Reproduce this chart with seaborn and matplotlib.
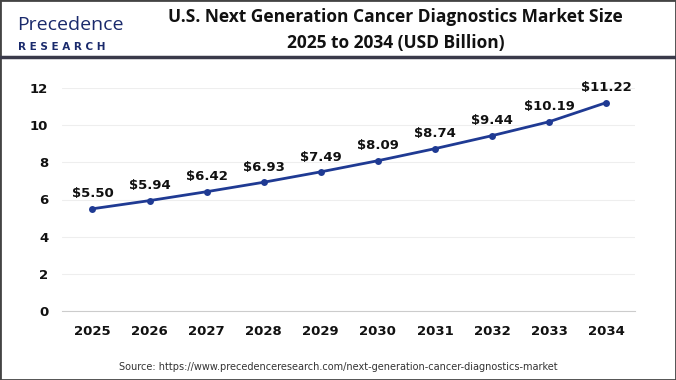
import matplotlib
matplotlib.use("Agg")
import matplotlib.pyplot as plt
import seaborn as sns
import pandas as pd

# chart data
years = ["2025", "2026", "2027", "2028", "2029", "2030", "2031", "2032", "2033", "2034"]
market_size = [5.50, 5.94, 6.42, 6.93, 7.49, 8.09, 8.74, 9.44, 10.19, 11.22]
y_ticks = [0, 2, 4, 6, 8, 10, 12]

df = pd.DataFrame({"year": years, "size": market_size})

sns.set_style("white")
plt.rcParams["font.family"] = ["DejaVu Sans"]

fig = plt.figure(figsize=(6.76, 3.80), dpi=100)
ax = fig.add_axes([0.092, 0.182, 0.847, 0.586])

sns.lineplot(data=df, x="year", y="size", ax=ax, color="#1f3a93", linewidth=2,
             marker="o", markersize=5, markeredgewidth=0, sort=False)

for i, v in enumerate(market_size):
    ax.text(i, v + 0.45, f"${v:.2f}", ha="center", va="bottom", fontsize=9.5,
            fontweight="bold", color="#111111")

ax.set_ylim(0, 12)
ax.set_xlim(-0.53, 9.5)
ax.set_yticks(y_ticks)
ax.grid(axis="y", color="#eeeeee", linewidth=0.8)
ax.set_axisbelow(True)
for s in ["top", "right", "left"]:
    ax.spines[s].set_visible(False)
ax.spines["bottom"].set_color("#cccccc")
ax.tick_params(axis="both", length=0, labelsize=9.5, colors="#111111", pad=10)
for lbl in ax.get_xticklabels() + ax.get_yticklabels():
    lbl.set_fontweight("bold")
ax.set_xlabel("")
ax.set_ylabel("")

# header
fig.text(0.585, 0.955, "U.S. Next Generation Cancer Diagnostics Market Size",
         ha="center", va="center", fontsize=12.5, fontweight="bold",
         family="Open Sans", color="#111111")
fig.text(0.585, 0.888, "2025 to 2034 (USD Billion)", ha="center", va="center",
         fontsize=12.5, fontweight="bold", family="Open Sans", color="#111111")

# logo
fig.text(0.025, 0.935, "Precedence", ha="left", va="center", fontsize=14,
         color="#1a2a6c", family="Open Sans")
fig.text(0.027, 0.875, "R E S E A R C H", ha="left", va="center", fontsize=7.5,
         fontweight="bold", color="#1a2a6c")

fig.add_artist(plt.Line2D([0, 1], [0.849, 0.849], color="#3a3a4a", linewidth=2.5))
fig.add_artist(plt.Rectangle((0, 0), 1, 1, fill=False, edgecolor="#444444",
                             linewidth=2, transform=fig.transFigure))

fig.text(0.5, 0.035, "Source: https://www.precedenceresearch.com/next-generation-cancer-diagnostics-market",
         ha="center", va="center", fontsize=7, color="#333333")

fig.savefig("out.png", dpi=100)
